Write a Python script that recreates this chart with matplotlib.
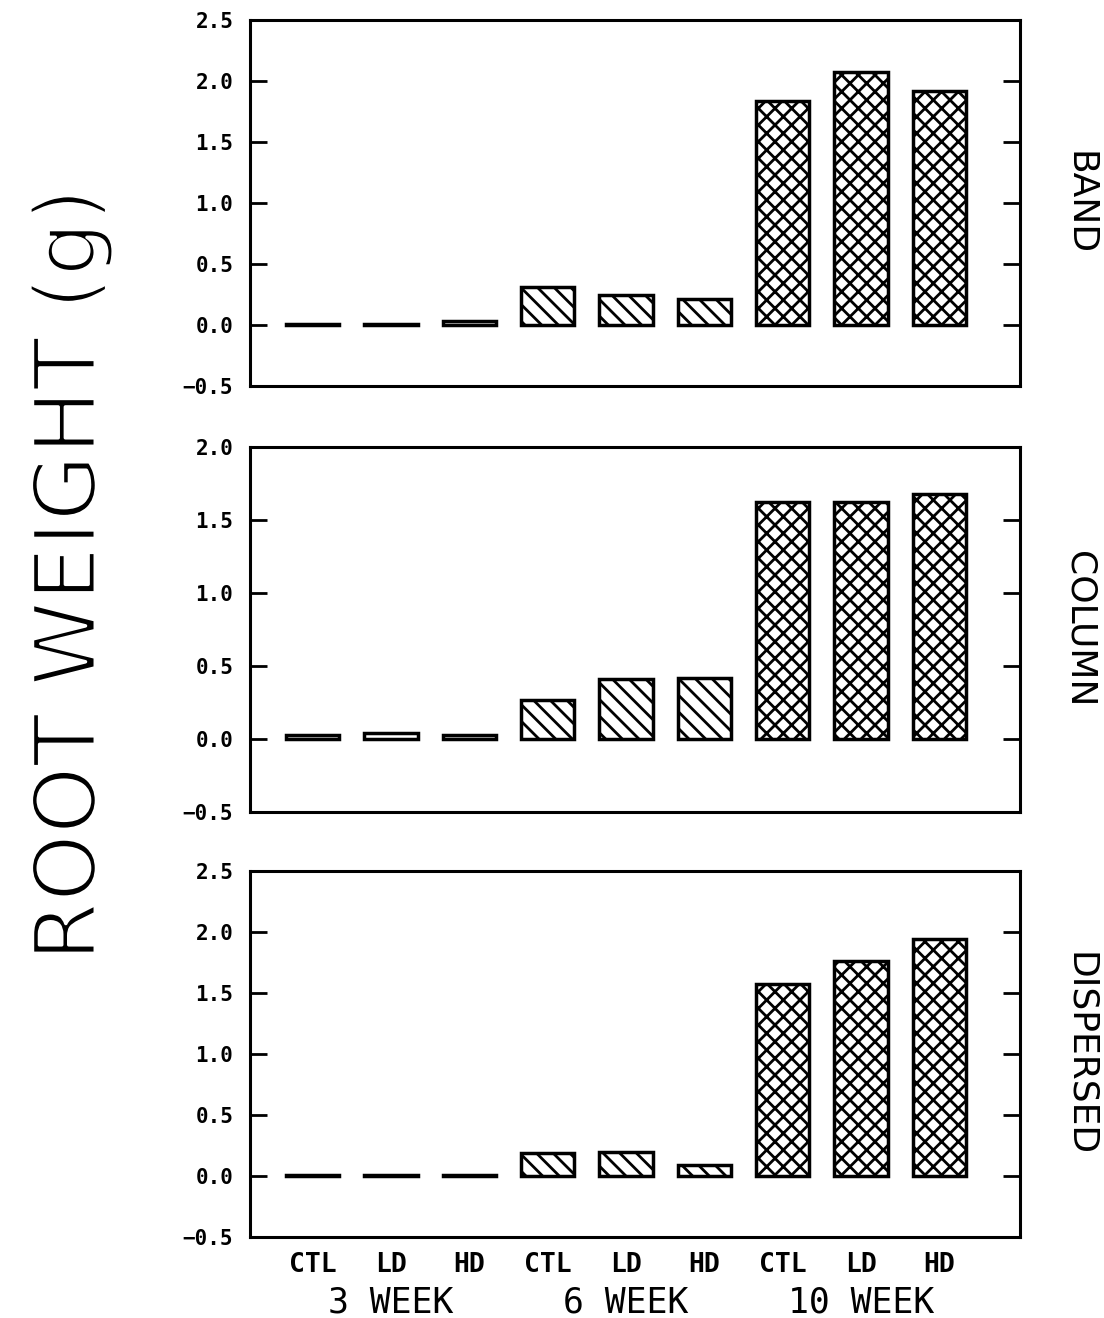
import matplotlib
matplotlib.use("Agg")
import matplotlib.pyplot as plt
import matplotlib.patheffects as pe

# treatments and weeks
treatments = ["CTL", "LD", "HD", "CTL", "LD", "HD", "CTL", "LD", "HD"]
weeks = ["3 WEEK", "6 WEEK", "10 WEEK"]
panels = ["BAND", "COLUMN", "DISPERSED"]

# root weight (g)
band = [0.01, 0.01, 0.03, 0.31, 0.25, 0.21, 1.84, 2.07, 1.92]
column = [0.03, 0.04, 0.03, 0.27, 0.41, 0.42, 1.62, 1.62, 1.68]
dispersed = [0.01, 0.005, 0.01, 0.19, 0.20, 0.09, 1.57, 1.76, 1.94]

plt.rcParams['hatch.linewidth'] = 2.0

fig = plt.figure(figsize=(11.04, 13.18), dpi=100)

boxes = [[0.2264, 0.7071, 0.6975, 0.2777],
         [0.2264, 0.3839, 0.6975, 0.2770],
         [0.2264, 0.0615, 0.6975, 0.2777]]
ylims = [(-0.5, 2.5), (-0.5, 2.0), (-0.5, 2.5)]
hatches = ["", "", "", "\\\\", "\\\\", "\\\\", "xx", "xx", "xx"]
tickfont = dict(family="DejaVu Sans Mono", weight="bold", size=15)

for box, vals, name, yl in zip(boxes, [band, column, dispersed], panels, ylims):
    ax = fig.add_axes(box)
    x = list(range(len(vals)))
    for i in x:
        ax.bar(i, vals[i], width=0.68, color="white", edgecolor="black",
               linewidth=2.5, hatch=hatches[i])
    ax.set_xlim(-0.8, 9.03)
    ax.set_ylim(*yl)
    ticks = [t * 0.5 for t in range(int(yl[0] * 2), int(yl[1] * 2) + 1)]
    ax.set_yticks(ticks)
    ax.set_yticklabels(["%.1f" % t if t >= 0 else "\u2212%.1f" % -t for t in ticks],
                       fontdict=tickfont)
    ax.tick_params(axis="y", direction="in", length=12, width=2, right=True, pad=12)
    ax.set_xticks([])
    for s in ax.spines.values():
        s.set_linewidth(2.2)
    fig.text(0.978, box[1] + box[3] / 2, name, rotation=-90, ha="center",
             va="center", fontsize=26)
    last_ax = ax

# bottom category labels
for i, t in enumerate(treatments):
    last_ax.text(i, -0.078, t, transform=last_ax.get_xaxis_transform(),
                 ha="center", va="center", family="DejaVu Sans Mono",
                 weight="bold", fontsize=19)
for j, w in enumerate(weeks):
    last_ax.text(3 * j + 1, -0.178, w, transform=last_ax.get_xaxis_transform(),
                 ha="center", va="center", family="DejaVu Sans Mono",
                 fontsize=25)

# thin stroke look: erode the glyphs with a white outline
fig.text(0.065, 0.564, "ROOT WEIGHT (g)", rotation=90, ha="center",
         va="center", fontsize=62,
         path_effects=[pe.Normal(), pe.Stroke(linewidth=2.5, foreground="white")])

fig.savefig("out.png", dpi=100)
